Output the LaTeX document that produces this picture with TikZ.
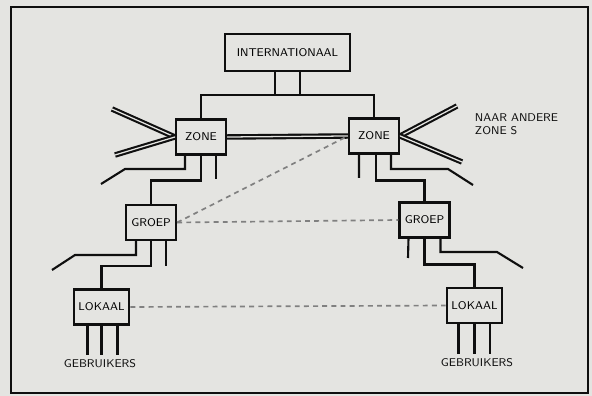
\documentclass[tikz,border=0pt]{standalone}
\usepackage{tikz}
\definecolor{paper}{RGB}{228,228,225}
\definecolor{ink}{RGB}{15,15,15}

\tikzset{
  unit/.style={draw=ink, rectangle, line width=1.6pt, fill=paper, minimum width=1.25cm, minimum height=0.87cm, font=\sffamily\footnotesize},
  wire/.style={draw=ink, line width=1.5pt},
  trunk/.style={draw=ink, line width=1.5pt, double=paper, double distance=0.9pt},
  spare/.style={draw=gray, line width=1.2pt, dash pattern=on 3.5pt off 3pt},
  caption/.style={font=\sffamily\footnotesize, text=ink}
}

\begin{document}
\begin{tikzpicture}[x=0.25cm, y=0.25cm]
      % Page and frame
      \fill[paper] (0,0) rectangle (59.2,39.6);
      \useasboundingbox (0,0) rectangle (59.2,39.6);
      \draw[ink, line width=2pt] (1.1,0.3) rectangle (58.8,38.9);

      % International level
      \node[unit, minimum width=3.12cm, minimum height=0.92cm] (intl) at (28.75,34.35) {INTERNATIONAAL};

      % Zones
      \node[unit] (zoneL) at (20.1,25.9) {ZONE};
      \node[unit] (zoneR) at (37.4,26.0) {ZONE};

      % Groups
      \node[unit] (groepL) at (15.1,17.35) {GROEP};
      \node[unit] (groepR) at (42.45,17.6) {GROEP};

      % Local
      \node[unit] (lokaalL) at (10.15,8.9) {LOKAAL};
      \node[unit] (lokaalR) at (47.45,9.05) {LOKAAL};

      % Labels
      \node[caption, align=left, anchor=west] (other) at (47.0,27.15) {NAAR ANDERE\\ZONE S};
      \node[caption] (usersL) at (10.0,3.2) {GEBRUIKERS};
      \node[caption] (usersR) at (47.7,3.3) {GEBRUIKERS};

      % Bus from international to zones
      \coordinate (bus) at (28.75,30.1);
      \draw[wire] (zoneL.north) |- (bus) -| (zoneR.north);
      \draw[wire] ([xshift=-0.31cm]intl.south) -- ([xshift=-0.31cm]intl.south |- bus);
      \draw[wire] ([xshift=0.31cm]intl.south) -- ([xshift=0.31cm]intl.south |- bus);

      % Trunks between zones and to other zones
      \coordinate (farL1) at (11.2,28.7);
      \coordinate (farL2) at (11.5,24.1);
      \coordinate (farR1) at (45.7,29.0);
      \coordinate (farR2) at (46.2,23.4);
      \draw[trunk] (zoneL.east) -- (zoneR.west);
      \draw[trunk] (zoneL.west) -- (farL1);
      \draw[trunk] (zoneL.west) -- (farL2);
      \draw[trunk] (zoneR.east) -- (farR1);
      \draw[trunk] (zoneR.east) -- (farR2);

      % Left zone to groups
      \coordinate (zlA) at (12.5,22.7);
      \coordinate (zlB) at (10.1,21.2);
      \coordinate (zlC) at (21.6,21.7);
      \draw[wire] ([xshift=-0.4cm]zoneL.south) |- (zlA) -- (zlB);
      \draw[wire] (zoneL.south) -- ++(0,-2.5) -| (groepL.north);
      \draw[wire] ([xshift=0.375cm]zoneL.south) -- (zlC);

      % Right zone to groups
      \coordinate (zrA) at (35.9,21.8);
      \coordinate (zrB) at (44.8,22.7);
      \coordinate (zrC) at (47.3,21.1);
      \draw[wire] ([xshift=-0.375cm]zoneR.south) -- (zrA);
      \draw[wire] ([xshift=0.05cm]zoneR.south) -- ++(0,-2.6) -| (groepR.north);
      \draw[wire] ([xshift=0.425cm]zoneR.south) |- (zrB) -- (zrC);

      % Left group to local
      \coordinate (glA) at (7.5,14.1);
      \coordinate (glB) at (5.2,12.6);
      \coordinate (glC) at (16.6,13.0);
      \draw[wire] ([xshift=-0.375cm]groepL.south) |- (glA) -- (glB);
      \draw[wire] (groepL.south) -- ++(0,-2.5) -| (lokaalL.north);
      \draw[wire] ([xshift=0.375cm]groepL.south) -- (glC);

      % Right group to local
      \coordinate (grA) at (40.8,13.8);
      \coordinate (grB) at (49.7,14.4);
      \coordinate (grC) at (52.3,12.8);
      \draw[wire] ([xshift=-0.4cm]groepR.south) -- (grA);
      \draw[wire] (groepR.south) -- ++(0,-2.6) -| (lokaalR.north);
      \draw[wire] ([xshift=0.4cm]groepR.south) |- (grB) -- (grC);

      % Users
      \foreach \dx in {-0.35,0,0.4} {
        \draw[wire] ([xshift=\dx cm]lokaalL.south) -- ([xshift=\dx cm]lokaalL.south |- usersL.north);
      }
      \foreach \dx in {-0.4,0,0.38} {
        \draw[wire] ([xshift=\dx cm]lokaalR.south) -- ([xshift=\dx cm]lokaalR.south |- usersR.north);
      }

      % Spare routes
      \draw[spare] (groepL.east) -- (zoneR.west);
      \draw[spare] (groepL.east) -- (groepR.west);
      \draw[spare] (lokaalL.east) -- (lokaalR.west);
    \end{tikzpicture}
\end{document}
